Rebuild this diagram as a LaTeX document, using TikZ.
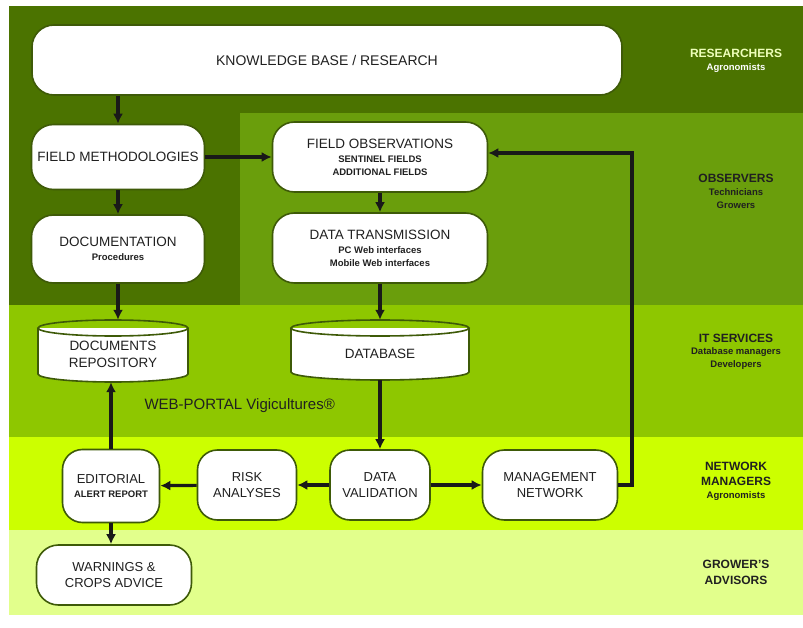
\documentclass[tikz,border=0pt]{standalone}
\usepackage{fontspec}
\setmainfont{Liberation Sans}
\usetikzlibrary{arrows.meta}
\definecolor{bandA}{HTML}{4B7300}
\definecolor{bandB}{HTML}{6A9E0C}
\definecolor{bandC}{HTML}{8EC700}
\definecolor{bandD}{HTML}{CCFF00}
\definecolor{bandE}{HTML}{E2FF8C}
\definecolor{boxline}{HTML}{3E5A08}
\definecolor{txt}{HTML}{202020}
\newcommand{\subtx}{\bfseries\fontsize{9.5}{11}\selectfont}
\tikzset{
  rbox/.style={draw=boxline, line width=1.6pt, fill=white, rounded corners=22pt,
    align=center, text=txt, font=\fontsize{13.5}{15}\selectfont, inner sep=2pt},
  cylname/.style={draw=none, align=center, text=txt, font=\fontsize{13.5}{17}\selectfont},
  cylpart/.style={draw=boxline, line width=1.6pt},
  conn/.style={draw=black!90, line width=3.2pt, -{Latex[length=10pt,width=10pt]}},
  roleA/.style={align=center, font=\bfseries\fontsize{12}{15}\selectfont},
  roleB/.style={align=center, font=\bfseries\fontsize{9.5}{13}\selectfont}
}
\begin{document}
\begin{tikzpicture}[x=1pt,y=-1pt]
\useasboundingbox (0,0) rectangle (803,628);
% bands
\fill[bandA] (9,6) rectangle (803,113);
\fill[bandA] (9,113) rectangle (240,305);
\fill[bandB] (240,113) rectangle (803,305);
\fill[bandC] (9,305) rectangle (803,437);
\fill[bandD] (9,437) rectangle (803,530);
\fill[bandE] (9,530) rectangle (803,615);

% role labels
\node[roleA, text=bandE!60!white] (rRes) at (736,53) {RESEARCHERS};
\node[roleB, text=white] (rResS) at (736,68) {Agronomists};
\node[roleA, text=txt] (rObs) at (736,178) {OBSERVERS};
\node[roleB, text=txt] (rObsS) at (736,198.5) {Technicians\\Growers};
\node[roleA, text=txt] (rIT) at (736,338) {IT SERVICES};
\node[roleB, text=txt] (rITS) at (736,358.5) {Database managers\\Developers};
\node[roleA, text=txt] (rNM) at (736,473.5) {NETWORK\\MANAGERS};
\node[roleB, text=txt] (rNMS) at (736,496) {Agronomists};
\node[roleA, text=txt, font=\bfseries\fontsize{12}{16}\selectfont] (rGA) at (736,572) {GROWER'S\\ADVISORS};

% boxes
\node[rbox, minimum width=590pt, minimum height=70pt, font=\fontsize{14}{15}\selectfont] (kb) at (327,60) {KNOWLEDGE BASE / RESEARCH};
\node[rbox, minimum width=173pt, minimum height=65pt] (fm) at (118,157) {FIELD METHODOLOGIES};
\node[rbox, minimum width=173pt, minimum height=68pt] (doc) at (118,249) {DOCUMENTATION\\[-1pt]{\subtx Procedures}};
\node[rbox, minimum width=215pt, minimum height=70pt] (fo) at (380,157) {FIELD OBSERVATIONS\\[-1pt]{\subtx SENTINEL FIELDS}\\[-2pt]{\subtx ADDITIONAL FIELDS}};
\node[rbox, minimum width=215pt, minimum height=70pt] (dt) at (380,248) {DATA TRANSMISSION\\[-1pt]{\subtx PC Web interfaces}\\[-2pt]{\subtx Mobile Web interfaces}};

% cylinders
\fill[white] (38,328) rectangle (188,374);
\fill[white] (113,374) ellipse [x radius=75, y radius=8];
\draw[cylpart] (113,328) ellipse [x radius=75, y radius=8];
\draw[cylpart] (38,328) -- (38,374) arc[start angle=180, end angle=0, x radius=75, y radius=8] -- (188,328);
\node[cylname, minimum width=150pt, minimum height=62pt] (repo) at (113,351) {};
\node[cylname] (repoT) at (113,354) {DOCUMENTS\\REPOSITORY};

\fill[white] (291,328) rectangle (469,372);
\fill[white] (380,372) ellipse [x radius=89, y radius=8];
\draw[cylpart] (380,328) ellipse [x radius=89, y radius=8];
\draw[cylpart] (291,328) -- (291,372) arc[start angle=180, end angle=0, x radius=89, y radius=8] -- (469,328);
\node[cylname, minimum width=178pt, minimum height=60pt] (db) at (380,350) {};
\node[cylname] (dbT) at (380,354) {DATABASE};

\node[text=txt, font=\fontsize{15}{17}\selectfont, anchor=west] (portal) at (141,406) {WEB-PORTAL Vigicultures®};

\node[rbox, minimum width=97pt, minimum height=73pt, rounded corners=20pt, font=\fontsize{13}{15}\selectfont] (ed) at (111,486) {EDITORIAL\\[-1pt]{\subtx ALERT REPORT}};
\node[rbox, minimum width=99pt, minimum height=70pt, rounded corners=20pt, font=\fontsize{13}{16}\selectfont] (ra) at (247,485) {RISK\\ANALYSES};
\node[rbox, minimum width=100pt, minimum height=70pt, rounded corners=20pt, font=\fontsize{13}{16}\selectfont] (dv) at (380,485) {DATA\\VALIDATION};
\node[rbox, minimum width=135pt, minimum height=70pt, font=\fontsize{13}{16}\selectfont] (mn) at (550,485) {MANAGEMENT\\NETWORK};
\node[rbox, minimum width=155pt, minimum height=60pt, font=\fontsize{13}{16}\selectfont] (wa) at (114,575) {WARNINGS \&\\CROPS ADVICE};

% connectors
\coordinate (c1) at (632,485);
\coordinate (c2) at (632,153);
\draw[conn] (kb.south -| fm.north) -- (fm.north);
\draw[conn] (fm) -- (doc);
\draw[conn] (doc.south) -- (doc.south |- repo.north);
\draw[conn] (fm.east) -- (fo.west);
\draw[conn] (fo) -- (dt);
\draw[conn] (dt.south) -- (db.north);
\draw[conn] (db.south) -- (dv.north);
\draw[conn] (dv) -- (ra);
\draw[conn] (ra) -- (ed);
\draw[conn] (dv) -- (mn);
\draw[conn] (mn.east) -- (c1) -- (c2) -- (c2 -| fo.east);
\draw[conn] (ed.north) -- (repo.south -| ed.north);
\draw[conn] (ed.south) -- (ed.south |- wa.north);
\end{tikzpicture}
\end{document}
